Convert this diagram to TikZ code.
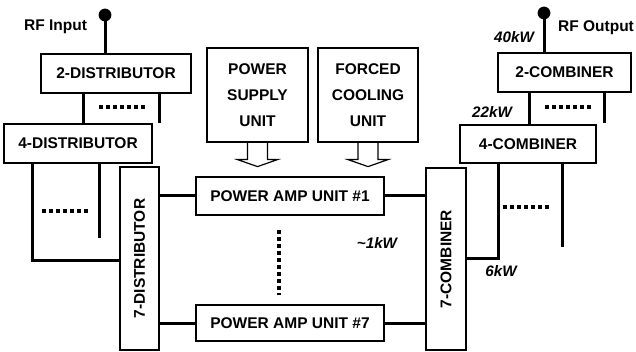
\documentclass[tikz,border=0pt]{standalone}
\usepackage{fontspec}
\setmainfont{Liberation Sans}
\usetikzlibrary{calc}

\begin{document}
\begin{tikzpicture}[x=.5pt,y=-.5pt,
    box/.style={draw,line width=.6pt,inner sep=0pt,align=center,
      font=\bfseries\fontsize{7.75}{13}\selectfont},
    wire/.style={line width=1.5pt},
    dots/.style={line width=2pt,dash pattern=on 2pt off 1.5pt},
    lbl/.style={font=\bfseries\fontsize{7.75}{9}\selectfont},
    kw/.style={font=\bfseries\itshape\fontsize{7.6}{9}\selectfont},
    fat/.style={draw,line width=.6pt}]
  \useasboundingbox (0,0) rectangle (636,352);
  % distributor side
  \node[box,minimum width=75pt,minimum height=19.5pt] (dist2) at (116,73.5) {2-DISTRIBUTOR};
  \node[box,minimum width=74pt,minimum height=19.5pt] (dist4) at (78,143.5) {4-DISTRIBUTOR};
  \node[box,minimum width=19.5pt,minimum height=91.5pt] (dist7) at (139.5,258.5) {\rotatebox{90}{7-DISTRIBUTOR}};
  % supply and cooling
  \node[box,minimum width=50.5pt,minimum height=47pt] (psu) at (257.5,95) {POWER\\SUPPLY\\UNIT};
  \node[box,minimum width=50pt,minimum height=47pt] (fcu) at (368,95) {FORCED\\COOLING\\UNIT};
  % amplifiers
  \node[box,minimum width=94pt,minimum height=19pt] (pa1) at (290,196) {POWER AMP UNIT \#1};
  \node[box,minimum width=94pt,minimum height=18pt] (pa7) at (290,323) {POWER AMP UNIT \#7};
  % combiner side
  \node[box,minimum width=20pt,minimum height=91pt] (comb7) at (446,259) {\rotatebox{90}{7-COMBINER}};
  \node[box,minimum width=68pt,minimum height=19pt] (comb4) at (528,144) {4-COMBINER};
  \node[box,minimum width=66.5pt,minimum height=19.5pt] (comb2) at (564.5,72.5) {2-COMBINER};

  % rf ports
  \coordinate (rfin) at (105,15);
  \coordinate (rfout) at (544,13);
  \fill (rfin) circle (3.2pt);
  \fill (rfout) circle (3.2pt);
  \draw[wire] (rfin) -- (rfin |- dist2.north);
  \draw[wire] (rfout) -- (rfout |- comb2.north);
  \node[lbl] (inlbl) at (55.5,27) {RF Input};
  \node[lbl] (outlbl) at (596,28) {RF Output};

  % distributor tree
  \coordinate (d2stub) at (159,123);
  \coordinate (d4stub) at (99,238);
  \draw[wire] (83,0 |- dist2.south) -- (83,0 |- dist4.north);
  \draw[wire] (d2stub |- dist2.south) -- (d2stub);
  \draw[wire] (32,0 |- dist4.south) |- (dist7.west |- 0,260);
  \draw[wire] (d4stub |- dist4.south) -- (d4stub);
  \draw[dots] (99,107) -- (147,107);
  \draw[dots] (42,211) -- (89,211);
  \draw[wire] (dist7.east |- pa1.west) -- (pa1.west);
  \draw[wire] (dist7.east |- pa7.west) -- (pa7.west);

  % combiner tree
  \coordinate (c2stub) at (604,123);
  \coordinate (c4stub) at (562,247);
  \draw[wire] (pa1.east) -- (comb7.west |- pa1.east);
  \draw[wire] (pa7.east) -- (comb7.west |- pa7.east);
  \draw[wire] (comb7.east |- 0,258) -| (498,0 |- comb4.south);
  \draw[wire] (c4stub |- comb4.south) -- (c4stub);
  \draw[wire] (529,0 |- comb4.north) -- (529,0 |- comb2.south);
  \draw[wire] (c2stub |- comb2.south) -- (c2stub);
  \draw[dots] (503,207) -- (550,207);
  \draw[dots] (545,107) -- (592,107);
  \draw[dots] (279,230) -- (279,295);

  % hollow arrows
  \foreach \src in {psu,fcu}
    \draw[fat] (\src.south) ++(-10,0) -- ++(0,17) -- ++(-10,0) -- ++(20,7)
      -- ++(20,-7) -- ++(-10,0) -- ++(0,-17);

  % power levels
  \node[kw] (kw40) at (514,37) {40kW};
  \node[kw] (kw22) at (492,112) {22kW};
  \node[kw] (kw6) at (501,271) {6kW};
  \node[kw] (kw1) at (377,243) {\textasciitilde1kW};
\end{tikzpicture}
\end{document}
